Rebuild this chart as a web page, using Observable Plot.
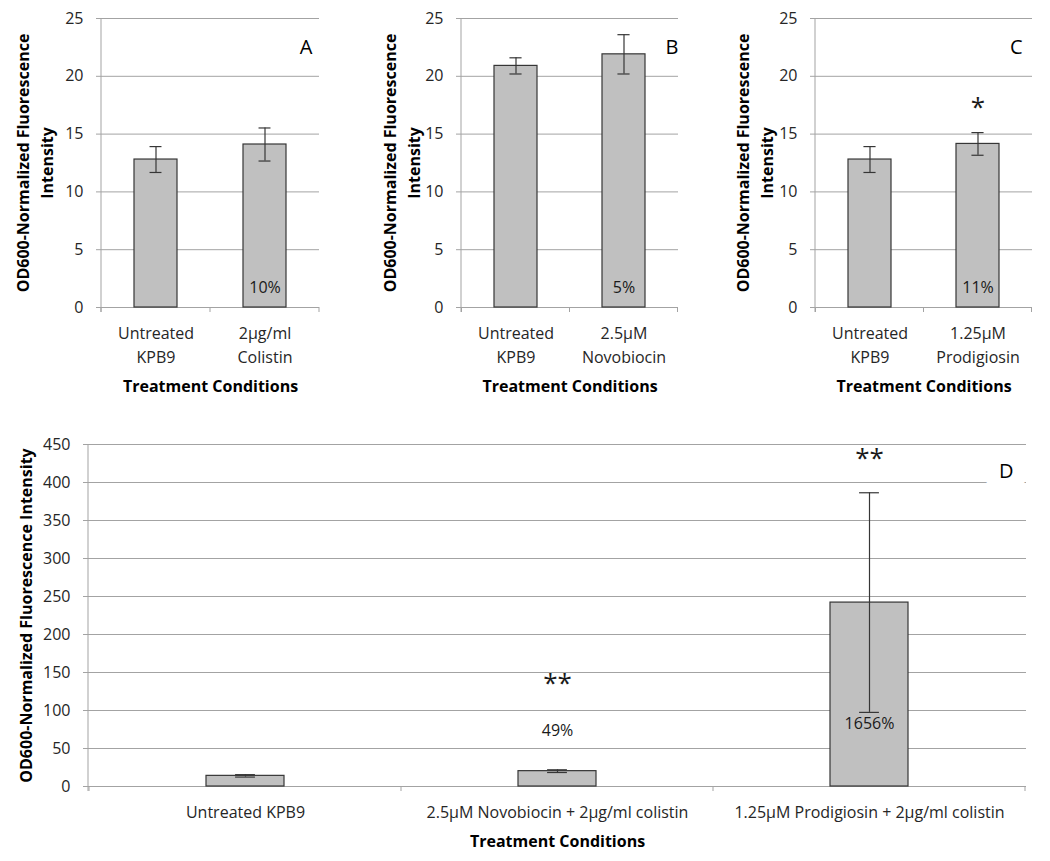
<!DOCTYPE html>
<html>
<head>
<meta charset="utf-8">
<script src="https://cdn.jsdelivr.net/npm/d3@7"></script>
<script src="https://cdn.jsdelivr.net/npm/@observablehq/plot@0.6"></script>
<style>
  html, body { margin: 0; padding: 0; background: white; }
  #wrap { position: relative; width: 1050px; height: 861px; background: white; }
  .panel { position: absolute; }
</style>
</head>
<body>
<div id="wrap">
  <div class="panel" id="pA" style="left:0;top:0"></div>
  <div class="panel" id="pB" style="left:350px;top:0"></div>
  <div class="panel" id="pC" style="left:700px;top:0"></div>
  <div class="panel" id="pD" style="left:0;top:430px"></div>
</div>
<script>
// ---------- DATA ----------
const yTitle = "OD600-Normalized Fluorescence Intensity";
const xTitle = "Treatment Conditions";

// Panel A
const catsA = ["Untreated\nKPB9", "2µg/ml\nColistin"];
const meansA = [12.8, 14.1];
const errsA = [1.12, 1.43];
const annTextA = ["10%"];
const annCatA = [1];
const annYA = [1.7];
const annSizeA = [16];

// Panel B
const catsB = ["Untreated\nKPB9", "2.5µM\nNovobiocin"];
const meansB = [20.9, 21.9];
const errsB = [0.7, 1.7];
const annTextB = ["5%"];
const annCatB = [1];
const annYB = [1.7];
const annSizeB = [16];

// Panel C
const catsC = ["Untreated\nKPB9", "1.25µM\nProdigiosin"];
const meansC = [12.8, 14.15];
const errsC = [1.12, 0.98];
const annTextC = ["11%", "*"];
const annCatC = [1, 1];
const annYC = [1.7, 17.3];
const annSizeC = [16, 26];

// Panel D
const catsD = ["Untreated KPB9", "2.5µM Novobiocin + 2µg/ml colistin", "1.25µM Prodigiosin + 2µg/ml colistin"];
const meansD = [14, 20.2, 242];
const errsD = [1.6, 1.8, 144.5];
const annTextD = ["**", "49%", "**", "1656%"];
const annCatD = [1, 1, 2, 2];
const annYD = [135, 73, 432, 83];
const annSizeD = [26, 16, 26, 16];

const ticksTop = [0, 5, 10, 15, 20, 25];
const ticksD = [0, 50, 100, 150, 200, 250, 300, 350, 400, 450];

// ---------- STYLE ----------
const GRID = "#a3a3a3";
const BAR = "#c0c0c0";
const EDGE = "#363636";
const ERR = "#363636";
const FONT = "'Open Sans', Lato, sans-serif";

function frameAxes(color) {
  return (index, scales, values, dims) => {
    const x = scales.x, y = scales.y;
    const g = d3.create("svg:g").attr("stroke", color).attr("fill", "none");
    const y0 = y(0);
    const left = dims.marginLeft;
    g.append("line").attr("x1", left).attr("x2", left).attr("y1", dims.marginTop).attr("y2", y0 + 5);
    const step = x.step(), bw = x.bandwidth();
    const edges = x.domain().map(d => x(d) - (step - bw) / 2);
    edges.push(edges[edges.length - 1] + step);
    for (const e of edges) g.append("line").attr("x1", e).attr("x2", e).attr("y1", y0).attr("y2", y0 + 5);
    return g.node();
  };
}

function panel(o) {
  const n = o.cats.length;
  const plotW = o.width - o.ml - o.mr;
  const bw = plotW / n * (1 - o.pad);
  const capInset = (bw - o.cap) / 2;
  const rows = o.cats.map((c, i) => ({cat: c, v: o.means[i], lo: o.means[i] - o.errs[i], hi: o.means[i] + o.errs[i]}));
  const ann = o.annText.map((t, i) => ({cat: o.cats[o.annCat[i]], y: o.annY[i], t, size: o.annSize[i]}));
  return Plot.plot({
    width: o.width,
    height: o.height,
    marginLeft: o.ml, marginRight: o.mr, marginTop: o.mt, marginBottom: o.mb,
    style: {fontFamily: FONT, fontSize: "16px", color: "#262626", background: "white"},
    x: {domain: o.cats, paddingInner: o.pad, paddingOuter: o.pad / 2, label: null},
    y: {domain: [0, o.max], label: null},
    marks: [
      Plot.gridY(o.ticks, {stroke: GRID, strokeOpacity: 1}),
      Plot.axisY(o.ticks, {tickSize: 5, tickPadding: 13, stroke: GRID, label: null, fontSize: 16}),
      Plot.axisX({tickSize: 0, tickPadding: o.xpad, lineHeight: 1.5, label: null, fontSize: 16}),
      frameAxes(GRID),
      Plot.barY(rows, {x: "cat", y: "v", fill: BAR, stroke: EDGE, strokeWidth: 1.2}),
      Plot.ruleX(rows, {x: "cat", y1: "lo", y2: "hi", stroke: ERR, strokeWidth: 1.2}),
      Plot.tickY(rows, {x: "cat", y: "lo", stroke: ERR, strokeWidth: 1.2, insetLeft: capInset, insetRight: capInset}),
      Plot.tickY(rows, {x: "cat", y: "hi", stroke: ERR, strokeWidth: 1.2, insetLeft: capInset, insetRight: capInset}),
      Plot.text(ann, {x: "cat", y: "y", text: "t", fontSize: "size", fill: "#1a1a1a"}),
      Plot.text([o.letter], {frameAnchor: "top-right", dx: o.letterDx, dy: o.letterDy, fontSize: 20, fill: "black",
        stroke: o.halo ? "white" : null, strokeWidth: o.halo ? 30 : null}),
      Plot.text([xTitle], {frameAnchor: "bottom", dy: o.xTitleDy, lineAnchor: "middle", fontWeight: "bold", fontSize: 16, fill: "black"}),
      Plot.text([o.yTitle], {frameAnchor: "left", rotate: -90, dx: o.yTitleDx, textAnchor: "middle", lineAnchor: "middle",
        fontWeight: "bold", fontSize: 16, lineHeight: 1.5, fill: "black"})
    ]
  });
}

const topCommon = {width: 350, height: 400, mt: 18, mb: 93, max: 25, ticks: ticksTop, pad: 0.605, cap: 12, xpad: 14, xTitleDy: 79,
  yTitle: "OD600-Normalized Fluorescence\nIntensity", letterDy: 21};

document.getElementById("pA").append(panel({...topCommon, ml: 101, mr: 31, cats: catsA, means: meansA, errs: errsA,
  annText: annTextA, annCat: annCatA, annY: annYA, annSize: annSizeA, letter: "A", letterDx: -7, yTitleDx: -68}));
document.getElementById("pB").append(panel({...topCommon, ml: 111, mr: 22, cats: catsB, means: meansB, errs: errsB,
  annText: annTextB, annCat: annCatB, annY: annYB, annSize: annSizeB, letter: "B", letterDx: 0, yTitleDx: -61}));
document.getElementById("pC").append(panel({...topCommon, ml: 115, mr: 18, cats: catsC, means: meansC, errs: errsC,
  annText: annTextC, annCat: annCatC, annY: annYC, annSize: annSizeC, letter: "C", letterDx: -10, yTitleDx: -62}));
document.getElementById("pD").append(panel({width: 1050, height: 431, mt: 14, mb: 75, ml: 88, mr: 24, max: 450, ticks: ticksD,
  pad: 0.75, cap: 20, xpad: 14, xTitleDy: 55, yTitle: yTitle, letterDy: 19, letterDx: -13, halo: true,
  cats: catsD, means: meansD, errs: errsD, annText: annTextD, annCat: annCatD, annY: annYD, annSize: annSizeD,
  letter: "D", yTitleDx: -64}));
</script>
</body>
</html>
